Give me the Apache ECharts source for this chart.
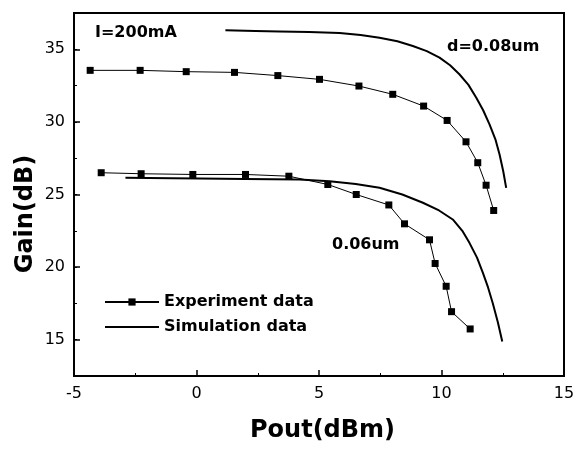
<!DOCTYPE html>
<html><head><meta charset="utf-8">
<script src="https://cdn.jsdelivr.net/npm/echarts@6/dist/echarts.min.js"></script>
<style>html,body{margin:0;padding:0;background:#fff}#c{width:583px;height:449px}</style>
</head><body><div id="c"></div>
<script>
var upperExpX = [-4.34,-2.30,-0.42,1.55,3.32,5.02,6.63,8.01,9.27,10.23,11.0,11.48,11.82,12.13];
var upperExpY = [33.55,33.55,33.46,33.41,33.19,32.93,32.47,31.9,31.09,30.1,28.63,27.19,25.64,23.9];
var upperSimX = [1.18,2.4,3.39,4.6,5.84,6.7,7.47,8.2,8.83,9.4,9.92,10.35,10.73,11.1,11.42,11.7,11.96,12.2,12.37,12.52,12.64];
var upperSimY = [36.31,36.26,36.22,36.19,36.13,35.98,35.8,35.55,35.23,34.87,34.43,33.9,33.28,32.55,31.67,30.8,29.83,28.8,27.76,26.6,25.46];
var lowerExpX = [-3.89,-2.26,-0.15,2.0,3.77,5.36,6.52,7.85,8.49,9.51,9.74,10.19,10.41,11.17];
var lowerExpY = [26.5,26.43,26.38,26.38,26.26,25.69,25.0,24.28,22.98,21.88,20.25,18.68,16.93,15.74];
var lowerSimX = [-2.9,-1.0,0.12,2.0,4.2,5.43,6.5,7.47,8.4,9.24,9.9,10.46,10.85,11.14,11.45,11.69,11.9,12.09,12.3,12.48];
var lowerSimY = [26.15,26.12,26.1,26.07,26.03,25.92,25.72,25.46,25.0,24.43,23.9,23.28,22.5,21.67,20.65,19.6,18.6,17.53,16.2,14.88];
var xTicks = [-5,0,5,10,15];
var yTicks = [15,20,25,30,35];
var xTitle = 'Pout(dBm)';
var yTitle = 'Gain(dB)';
var expName = 'Experiment data';
var simName = 'Simulation data';
var notes = ['I=200mA','d=0.08um','0.06um'];

function zip(a,b){return a.map(function(v,i){return [v,b[i]];});}
var F = 'DejaVu Sans';
var chart = echarts.init(document.getElementById('c'), null, {renderer:'canvas'});
var expStyle = {type:'line', name:expName, symbol:'rect', symbolSize:7, itemStyle:{color:'#000'}, lineStyle:{color:'#000', width:1}, xAxisIndex:0, yAxisIndex:0, z:3};
var simStyle = {type:'line', name:simName, symbol:'none', smooth:false, itemStyle:{color:'#000'}, lineStyle:{color:'#000', width:2, join:'round'}, xAxisIndex:0, yAxisIndex:0};
chart.setOption({
  animation:false,
  backgroundColor:'#fff',
  grid:{left:74, right:19, top:13, bottom:73, show:true, borderColor:'#000', borderWidth:2, backgroundColor:'transparent'},
  xAxis:[{
    type:'value', min:xTicks[0], max:xTicks[xTicks.length-1], interval:5,
    axisLine:{show:true, onZero:false, lineStyle:{color:'#000', width:2}},
    axisTick:{show:true, inside:true, length:6, lineStyle:{color:'#000', width:1.5}},
    minorTick:{show:true, splitNumber:2, length:3, lineStyle:{color:'#000', width:1}},
    axisLabel:{color:'#000', fontFamily:F, fontSize:16, margin:10},
    splitLine:{show:false}
  }],
  yAxis:[{
    type:'value', min:12.5, max:37.5, interval:2.5,
    axisLine:{show:true, onZero:false, lineStyle:{color:'#000', width:2}},
    axisTick:{show:true, inside:true, length:3, lineStyle:{color:'#000', width:1}},
    axisLabel:{show:false},
    splitLine:{show:false}
  },{
    type:'value', min:12.5, max:37.5, position:'left',
    axisLine:{show:false, onZero:false},
    axisTick:{show:true, inside:true, length:6, customValues:yTicks, lineStyle:{color:'#000', width:1.5}},
    axisLabel:{show:true, customValues:yTicks, color:'#000', fontFamily:F, fontSize:16, margin:9},
    splitLine:{show:false}
  }],
  legend:{
    data:[expName, {name:simName, itemStyle:{opacity:0}}], orient:'vertical', left:104, top:294, padding:0,
    itemWidth:54, itemHeight:9, itemGap:9,
    textStyle:{color:'#000', fontFamily:F, fontWeight:'bold', fontSize:16}
  },
  graphic:[
    {type:'text', left:250, top:433-14, style:{text:xTitle, fill:'#000', font:'bold 24px "DejaVu Sans"'}},
    {type:'text', x:26, y:214, rotation:Math.PI/2, style:{text:yTitle, fill:'#000', font:'bold 24px "DejaVu Sans"', textAlign:'center', textVerticalAlign:'middle'}},
    {type:'text', x:95, y:33, style:{text:notes[0], fill:'#000', font:'bold 16px "DejaVu Sans"', textVerticalAlign:'middle'}},
    {type:'text', x:447, y:47, style:{text:notes[1], fill:'#000', font:'bold 16px "DejaVu Sans"', textVerticalAlign:'middle'}},
    {type:'text', x:332, y:245, style:{text:notes[2], fill:'#000', font:'bold 16px "DejaVu Sans"', textVerticalAlign:'middle'}}
  ],
  series:[
    Object.assign({}, expStyle, {data:zip(upperExpX, upperExpY)}),
    Object.assign({}, simStyle, {data:zip(upperSimX, upperSimY)}),
    Object.assign({}, expStyle, {data:zip(lowerExpX, lowerExpY)}),
    Object.assign({}, simStyle, {data:zip(lowerSimX, lowerSimY)})
  ]
});
</script></body></html>
